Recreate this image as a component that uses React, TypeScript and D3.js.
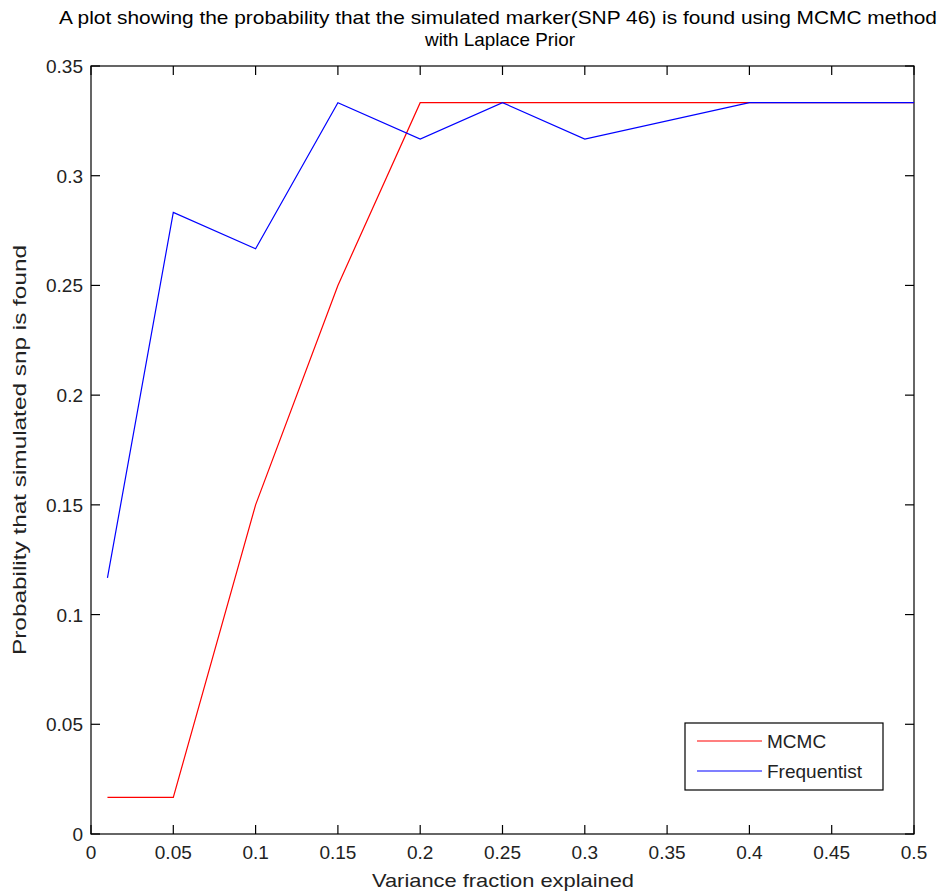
import React from "react";
import * as d3 from "d3";

const xValues = [0.01, 0.05, 0.1, 0.15, 0.2, 0.25, 0.3, 0.4, 0.5];
const mcmcValues = [0.0167, 0.0167, 0.15, 0.25, 0.3333, 0.3333, 0.3333, 0.3333, 0.3333];
const freqValues = [0.1167, 0.2833, 0.2667, 0.3333, 0.3167, 0.3333, 0.3167, 0.3333, 0.3333];
const xTicks = [0, 0.05, 0.1, 0.15, 0.2, 0.25, 0.3, 0.35, 0.4, 0.45, 0.5];
const yTicks = [0, 0.05, 0.1, 0.15, 0.2, 0.25, 0.3, 0.35];
const seriesNames = ["MCMC", "Frequentist"];
const seriesColors = ["#ff0000", "#0000ff"];
const titleLines = [
  "A plot showing the probability that the simulated marker(SNP 46) is found using MCMC method",
  "with Laplace Prior",
];
const xLabel = "Variance fraction explained";
const yLabel = "Probability that simulated snp is found";

const W = 943;
const H = 894;
const L = 91, R = 914, T = 66, B = 834;
const FONT = "'Liberation Sans', Arial, Helvetica, sans-serif";

export default function App() {
  const x = d3.scaleLinear().domain([0, 0.5]).range([L, R]);
  const y = d3.scaleLinear().domain([0, 0.35]).range([B, T]);
  const line = d3
    .line<number>()
    .x((_, i) => x(xValues[i]))
    .y((d) => y(d));
  const series = [mcmcValues, freqValues];
  const fmt = (v: number) => String(+v.toFixed(2));
  const tick = 9;

  return (
    <svg
      width={W}
      height={H}
      style={{ position: "absolute", left: 0, top: 0, background: "#fff" }}
      fontFamily={FONT}
    >
      <rect x={0} y={0} width={W} height={H} fill="#fff" />
      {/* title */}
      <text x={498} y={24} textAnchor="middle" fontSize={19} fill="#000" textLength={878} lengthAdjust="spacingAndGlyphs">
        {titleLines[0]}
      </text>
      <text x={500} y={46} textAnchor="middle" fontSize={19} fill="#000" textLength={150} lengthAdjust="spacingAndGlyphs">
        {titleLines[1]}
      </text>

      {/* plot box */}
      <rect x={L} y={T} width={R - L} height={B - T} fill="#fff" stroke="#000" strokeWidth={1.2} />

      {/* x ticks */}
      {xTicks.map((t) => (
        <g key={"x" + t}>
          <line x1={x(t)} x2={x(t)} y1={B} y2={B - tick} stroke="#000" strokeWidth={1.2} />
          <line x1={x(t)} x2={x(t)} y1={T} y2={T + tick} stroke="#000" strokeWidth={1.2} />
          <text x={x(t)} y={859} textAnchor="middle" fontSize={19} fill="#222">
            {fmt(t)}
          </text>
        </g>
      ))}
      {/* y ticks */}
      {yTicks.map((t) => (
        <g key={"y" + t}>
          <line x1={L} x2={L + tick} y1={y(t)} y2={y(t)} stroke="#000" strokeWidth={1.2} />
          <line x1={R} x2={R - tick} y1={y(t)} y2={y(t)} stroke="#000" strokeWidth={1.2} />
          <text x={83} y={y(t) + 7} textAnchor="end" fontSize={19} fill="#222">
            {fmt(t)}
          </text>
        </g>
      ))}

      {/* series */}
      {series.map((s, i) => (
        <path key={seriesNames[i]} d={line(s) || ""} fill="none" stroke={seriesColors[i]} strokeWidth={1.2} />
      ))}

      {/* axis labels */}
      <text x={503} y={887} textAnchor="middle" fontSize={19} fill="#222" textLength={262} lengthAdjust="spacingAndGlyphs">
        {xLabel}
      </text>
      <text
        transform={`translate(26,450) rotate(-90)`}
        textAnchor="middle"
        fontSize={19}
        fill="#222"
        textLength={410}
        lengthAdjust="spacingAndGlyphs"
      >
        {yLabel}
      </text>

      {/* legend */}
      <rect x={685} y={723} width={198} height={67} fill="#fff" stroke="#000" strokeWidth={1.2} />
      {seriesNames.map((n, i) => (
        <g key={"lg" + n}>
          <line x1={697} x2={762} y1={741 + i * 30} y2={741 + i * 30} stroke={seriesColors[i]} strokeWidth={1.2} />
          <text x={767} y={741 + i * 30 + 7} fontSize={19} fill="#222">
            {n}
          </text>
        </g>
      ))}
    </svg>
  );
}
